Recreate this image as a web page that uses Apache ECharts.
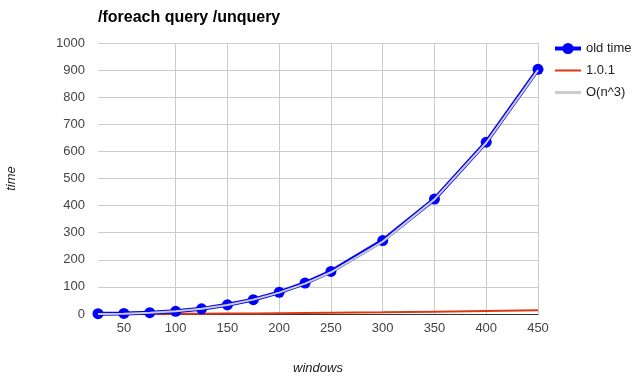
<!DOCTYPE html>
<html>
<head>
<meta charset="utf-8">
<script src="https://cdn.jsdelivr.net/npm/echarts@6/dist/echarts.min.js"></script>
<style>html,body{margin:0;padding:0;background:#fff}#c{width:641px;height:380px}</style>
</head>
<body>
<div id="c"></div>
<script>
var windows = [25, 50, 75, 100, 125, 150, 175, 200, 225, 250, 300, 350, 400, 450];
var oldTime = [1, 2, 5, 10, 19, 34, 53, 80, 114, 157, 271, 424, 634, 903];
var v101 = [0, 0.1, 0.3, 0.6, 1, 1.5, 2, 2.7, 3.5, 4.3, 6.3, 8.5, 11, 13.5];
var onCubed = [0.2, 1.2, 4.2, 10, 19.5, 33, 53, 79, 112, 154, 267, 423, 632, 900];
var xTicks = [50, 100, 150, 200, 250, 300, 350, 400, 450];
var seriesNames = ['old time', '1.0.1', 'O(n^3)'];

function pairs(vals) { return windows.map(function (w, i) { return [w, vals[i]]; }); }

var chart = echarts.init(document.getElementById('c'), null, {renderer: 'canvas'});
var font = 'Arial, "Liberation Sans", sans-serif';
chart.setOption({
  animation: false,
  textStyle: {fontFamily: font},
  title: {
    text: '/foreach query /unquery', left: 93, top: 5,
    textStyle: {fontSize: 16, fontWeight: 'bold', color: '#000', fontFamily: font}
  },
  legend: {
    orient: 'vertical', left: 548, top: 37, itemGap: 9, itemWidth: 26, itemHeight: 14,
    textStyle: {fontSize: 13, color: '#222', fontFamily: font},
    data: [
      {name: seriesNames[0], lineStyle: {width: 4}},
      {name: seriesNames[1], lineStyle: {width: 2}, itemStyle: {opacity: 0}},
      {name: seriesNames[2], lineStyle: {width: 3}, itemStyle: {opacity: 0}}
    ]
  },
  grid: {left: 98, right: 103, top: 43, bottom: 66, outerBoundsMode: 'none', containLabel: false},
  xAxis: {
    type: 'value', min: 25, max: 450,
    name: 'windows', nameLocation: 'middle', nameGap: 48,
    nameTextStyle: {fontStyle: 'italic', fontSize: 13, color: '#222', fontFamily: font},
    axisLine: {show: true, onZero: false, lineStyle: {color: '#333', width: 1}},
    axisTick: {show: false, customValues: xTicks},
    axisLabel: {customValues: xTicks, color: '#444', fontSize: 13, margin: 8, fontFamily: font},
    splitLine: {show: true, showMinLine: false, lineStyle: {color: '#ccc', width: 1}}
  },
  yAxis: {
    type: 'value', min: 0, max: 1000, interval: 100,
    name: 'time', nameLocation: 'middle', nameGap: 80,
    nameTextStyle: {fontStyle: 'italic', fontSize: 13, color: '#222', fontFamily: font},
    axisLine: {show: false}, axisTick: {show: false},
    axisLabel: {color: '#444', fontSize: 13, margin: 13, fontFamily: font,
      formatter: function (v) { return String(v); }},
    splitLine: {show: true, lineStyle: {color: '#ccc', width: 1}}
  },
  series: [
    {name: seriesNames[0], type: 'line', data: pairs(oldTime), color: '#0000ff',
     symbol: 'circle', symbolSize: 11, lineStyle: {width: 4, color: '#0000ff'},
     itemStyle: {color: '#0000ff'}, z: 2},
    {name: seriesNames[1], type: 'line', data: pairs(v101), color: '#dc3912',
     showSymbol: false, symbol: 'none', lineStyle: {width: 2, color: '#dc3912'}, z: 1},
    {name: seriesNames[2], type: 'line', data: pairs(onCubed), color: '#cccccc',
     showSymbol: false, symbol: 'none', lineStyle: {width: 2, color: '#cccccc'}, z: 3}
  ]
});
</script>
</body>
</html>
